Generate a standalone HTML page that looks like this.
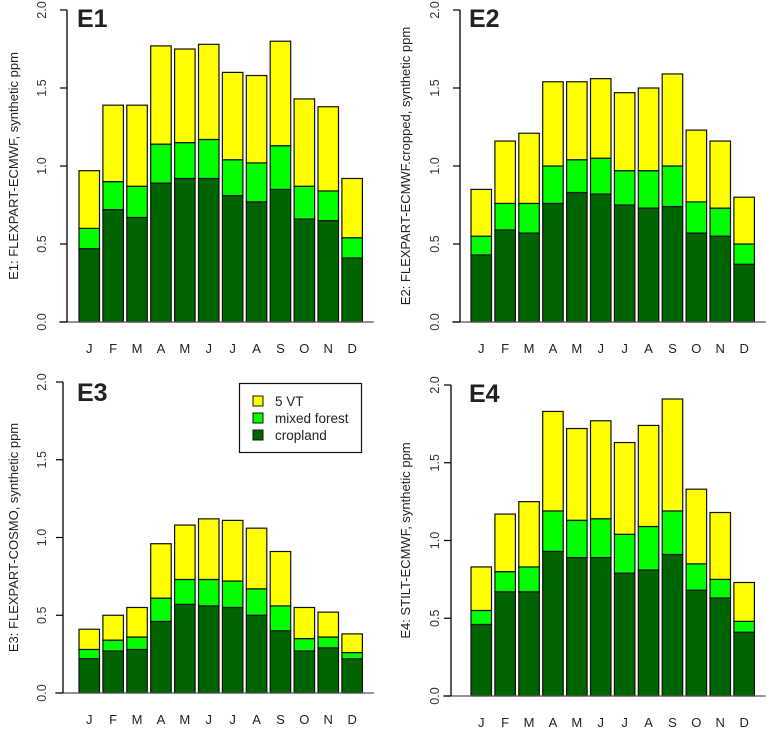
<!DOCTYPE html>
<html><head><meta charset="utf-8"><style>
body{margin:0;background:#fff;}
svg{display:block;font-family:"Liberation Sans",sans-serif;}
</style></head><body>
<svg id="chart" width="766" height="729" viewBox="0 0 766 729"></svg>
<script>
const months = ["J","F","M","A","M","J","J","A","S","O","N","D"];
const yTicks = [0,0.5,1.0,1.5,2.0];
const yTickLabels = ["0.0","0.5","1.0","1.5","2.0"];
const e1Cropland = [.47,.72,.67,.89,.92,.92,.81,.77,.85,.66,.65,.41];
const e1Forest   = [.13,.18,.20,.25,.23,.25,.23,.25,.28,.21,.19,.13];
const e1VT       = [.37,.49,.52,.63,.60,.61,.56,.56,.67,.56,.54,.38];
const e2Cropland = [.43,.59,.57,.76,.83,.82,.75,.73,.74,.57,.55,.37];
const e2Forest   = [.12,.17,.19,.24,.21,.23,.22,.24,.26,.20,.18,.13];
const e2VT       = [.30,.40,.45,.54,.50,.51,.50,.53,.59,.46,.43,.30];
const e3Cropland = [.22,.27,.28,.46,.57,.56,.55,.50,.40,.27,.29,.22];
const e3Forest   = [.06,.07,.08,.15,.16,.17,.17,.17,.16,.08,.07,.04];
const e3VT       = [.13,.16,.19,.35,.35,.39,.39,.39,.35,.20,.16,.12];
const e4Cropland = [.46,.67,.67,.93,.89,.89,.79,.81,.91,.68,.63,.41];
const e4Forest   = [.09,.13,.16,.26,.24,.25,.25,.28,.28,.17,.12,.07];
const e4VT       = [.28,.37,.42,.64,.59,.63,.59,.65,.72,.48,.43,.25];

const NS="http://www.w3.org/2000/svg";
const svg=document.getElementById('chart');
function mk(tag,attrs,parent){const e=document.createElementNS(NS,tag);for(const k in attrs)e.setAttribute(k,attrs[k]);(parent||svg).appendChild(e);return e;}

const panels=[
 {id:"e1",title:"E1",ylab:"E1: FLEXPART-ECMWF, synthetic ppm",ax:67,y0:322,y2:10,bx:79,tx:42,lx:8,ttx:77,tty:27,c:e1Cropland,f:e1Forest,v:e1VT},
 {id:"e2",title:"E2",ylab:"E2: FLEXPART-ECMWF.cropped, synthetic ppm",ax:460,y0:322,y2:10,bx:471,tx:435,lx:400,ttx:469,tty:27,c:e2Cropland,f:e2Forest,v:e2VT},
 {id:"e3",title:"E3",ylab:"E3: FLEXPART-COSMO, synthetic ppm",ax:63,y0:693,y2:382,bx:79,tx:42,lx:8,ttx:77,tty:401,c:e3Cropland,f:e3Forest,v:e3VT},
 {id:"e4",title:"E4",ylab:"E4: STILT-ECMWF, synthetic ppm",ax:451,y0:696,y2:385,bx:471,tx:435,lx:400,ttx:469,tty:402,c:e4Cropland,f:e4Forest,v:e4VT}
];
const pitch=23.9, bw=20.5;
panels.forEach(p=>{
  const g=mk('g',{});
  
  
  const ys=v=>p.y0-(p.y0-p.y2)*v/2;
  const xs=i=>p.bx+i*pitch;
  // bars
  for(let i=0;i<months.length;i++){
    const segs=[[p.c[i],'#006400','cropland'],[p.f[i],'#00ff00','mixed-forest'],[p.v[i],'#ffff00','5vt']];
    let base=0;
    segs.forEach(s=>{
      const r=mk('rect',{x:xs(i),y:ys(base+s[0]),width:bw,height:ys(base)-ys(base+s[0]),fill:s[1],stroke:'#111','stroke-width':1.2},g);
      
      
      base+=s[0];
    });
    const t=mk('text',{x:xs(i)+bw/2,y:p.y0+31,'text-anchor':'middle','font-size':13,fill:'#222'},g);
    t.textContent=months[i];
    
    
  }
  // baseline
  const bl=mk('line',{x1:p.ax-8,x2:p.bx+12*pitch+8,y1:p.y0,y2:p.y0,stroke:'#555','stroke-width':1.3},g);
  
  
  // y axis
  const ya=mk('line',{x1:p.ax,x2:p.ax,y1:ys(2),y2:ys(0),stroke:'#000','stroke-width':1.3},g);
  
  
  yTicks.forEach((v,k)=>{
    mk('line',{x1:p.ax-7,x2:p.ax,y1:ys(v),y2:ys(v),stroke:'#000','stroke-width':1.2},g);
    const t=mk('text',{transform:`translate(${p.tx+4},${ys(v)}) rotate(-90)`,'text-anchor':'middle','font-size':12.5,fill:'#333'},g);
    t.textContent=yTickLabels[k];
    
    
  });
  const yl=mk('text',{transform:`translate(${p.lx+10},${(p.y0+p.y2)/2}) rotate(-90)`,'text-anchor':'middle','font-size':13,fill:'#222'},g);
  yl.textContent=p.ylab;
  
  
  const tt=mk('text',{x:p.ttx,y:p.tty,'font-size':25,'font-weight':'bold',fill:'#222'},g);
  tt.textContent=p.title;
  
  
});
// legend
const lg=mk('g',{});


mk('rect',{x:239.5,y:383.5,width:122,height:69,fill:'#fff',stroke:'#111','stroke-width':1.2},lg);
[['5 VT','#ffff00'],['mixed forest','#00ff00'],['cropland','#006400']].forEach((e,k)=>{
  const y=401+k*17;
  const sw=mk('rect',{x:253,y:y-5,width:10,height:10,fill:e[1],stroke:'#111','stroke-width':1},lg);
  
  
  const t=mk('text',{x:275,y:y+5,'font-size':13.5,fill:'#222'},lg);
  t.textContent=e[0];
  
  
});
</script>
</body></html>
